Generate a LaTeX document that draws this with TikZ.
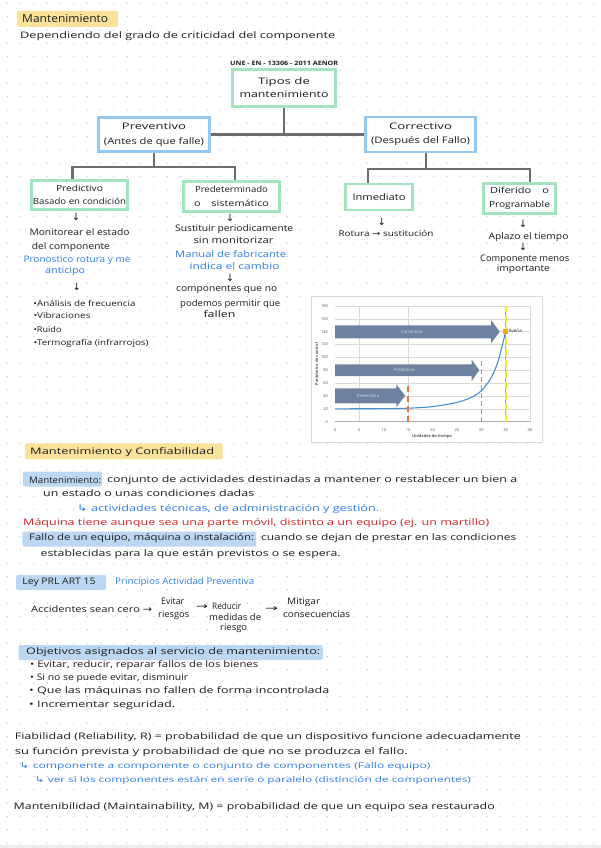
\documentclass[tikz,border=0pt]{standalone}
\usepackage{fontspec}
\setmainfont{Open Sans}
\newfontfamily\djv{DejaVu Sans}
\usepackage{graphicx}
\definecolor{ink}{HTML}{1C1C1C}
\definecolor{bluet}{HTML}{2E7EEA}
\definecolor{redt}{HTML}{D42323}
\definecolor{hly}{HTML}{FBE29B}
\definecolor{hlb}{HTML}{BCD7F2}
\definecolor{gbord}{HTML}{A3E4BE}
\definecolor{bbord}{HTML}{93C8F2}
\definecolor{connc}{HTML}{6E6E6E}
\definecolor{dotc}{HTML}{BDBDBD}
\definecolor{tickc}{HTML}{595959}
\definecolor{gridc}{HTML}{D9D9D9}
\definecolor{arrc}{HTML}{6C829E}
\definecolor{arrt}{HTML}{DDE3EC}
\definecolor{curvec}{HTML}{4A90D0}
\definecolor{orgc}{HTML}{EE7430}
\definecolor{yelc}{HTML}{F2EE1A}
\definecolor{avc}{HTML}{F2A900}
\newcommand\sw[2]{\resizebox{#1pt}{\height}{#2}}
\newcommand\ar{{\djv →}}
\newcommand\hk{{\djv ↳}}
\newcommand\T[6][txt]{\node[#1] (#2) at (#3,#4) {\sw{#5}{#6}};}
\begin{document}
\begin{tikzpicture}[x=1pt,y=-1pt,
 txt/.style={anchor=west,inner sep=0pt,text=ink,font=\fontsize{9}{10}\selectfont},
 btxt/.style={txt,text=bluet},
 rtxt/.style={txt,text=redt},
 dn/.style={anchor=center,inner sep=0pt,text=ink,font=\djv\fontsize{10}{10}\selectfont},
 boxbase/.style={draw,line width=2.8pt,fill=white,align=center,inner sep=0pt,text=ink,font=\fontsize{9}{13}\selectfont},
 gbox/.style={boxbase,draw=gbord},
 bbox/.style={boxbase,draw=bbord},
 conn/.style={draw=connc,line width=2.6pt},
 tick/.style={inner sep=0pt,text=tickc,font=\fontsize{4}{4}\selectfont},
 atxt/.style={inner sep=0pt,text=arrt,font=\fontsize{4.5}{5}\selectfont},
]
\useasboundingbox (0,0) rectangle (601,848);
\fill[white] (0,0) rectangle (601,848);
% dot grid
\foreach \i in {0,...,44}{\foreach \j in {0,...,63}{\fill[dotc] ({7.3+13.33*\i},{3.3+13.33*\j}) circle (0.6pt);}}
\fill[black!7] (0,845) rectangle (601,848);

% ---------- header ----------
\fill[hly,rounded corners=2pt] (17,11) rectangle (118,27);
\T[txt,font=\fontsize{11}{12}\selectfont]{ttl}{22}{19}{86}{Mantenimiento}
\T{dep}{20}{36}{315}{Dependiendo del grado de criticidad del componente}
\T[txt,font=\bfseries\fontsize{6}{7}\selectfont]{une}{230}{63}{108}{UNE - EN - 13306 - 2011 AENOR}

% ---------- tree ----------
\node[gbox,minimum width=103pt,minimum height=37pt] (tipos) at (284,88) {\sw{52}{Tipos de}\\\sw{89}{mantenimiento}};
\node[bbox,minimum width=111pt,minimum height=34pt,font=\fontsize{9}{15}\selectfont] (prev) at (154,134.5) {\sw{64}{Preventivo}\\\sw{100}{(Antes de que falle)}};
\node[bbox,minimum width=110pt,minimum height=35pt,font=\fontsize{9}{14}\selectfont] (corr) at (420.5,134.5) {\sw{63}{Correctivo}\\\sw{99}{(Después del Fallo)}};
\node[gbox,minimum width=96pt,minimum height=29pt,font=\fontsize{8.5}{12.5}\selectfont] (pred) at (79.5,195) {\sw{47}{Predictivo}\\\sw{93}{Basado en condición}};
\node[gbox,minimum width=96pt,minimum height=30pt,font=\fontsize{8.5}{13.5}\selectfont] (prdt) at (231.5,196.5) {\sw{73}{Predeterminado}\\\sw{75}{o\quad sistemático}};
\node[gbox,minimum width=67pt,minimum height=26pt] (inm) at (379,197) {\sw{53}{Inmediato}};
\node[gbox,minimum width=72pt,minimum height=30pt,font=\fontsize{8.5}{13.5}\selectfont] (dif) at (519.5,198.5) {\sw{59}{Diferido\quad o}\\\sw{61}{Programable}};

\coordinate (pl) at (72.7,167);
\coordinate (pr) at (235,167);
\coordinate (cj) at (426,169);
\coordinate (cl) at (368,169);
\coordinate (cr) at (530,169);
\draw[conn] (tipos.south) -- (tipos.south |- prev.east);
\draw[conn] (prev.east) -- (corr.west);
\draw[conn] (prev.south) -- (prev.south |- pl);
\draw[conn] (pred.north -| pl) |- (pr) -- (prdt.north -| pr);
\draw[conn] (corr.south -| cj) -- (cj);
\draw[conn] (inm.north -| cl) |- (cr) -- (dif.north -| cr);

% ---------- under Predictivo ----------
\node[dn] (a1) at (76,216.5) {↓};
\T{m1}{29.3}{232.3}{100}{Monitorear el estado}
\T{m2}{31.7}{246.7}{78}{del componente}
\T[btxt]{m3}{23.3}{260.7}{107}{Pronostico rotura y me}
\T[btxt]{m4}{45}{271}{40}{anticipo}
\node[dn] (a2) at (76.7,287) {↓};
\T[txt,font=\fontsize{8}{9}\selectfont]{m5}{33.3}{303.3}{102}{•Análisis de frecuencia}
\T[txt,font=\fontsize{8}{9}\selectfont]{m6}{33.3}{315.5}{57}{•Vibraciones}
\T[txt,font=\fontsize{8}{9}\selectfont]{m7}{33.3}{329.3}{28}{•Ruido}
\T[txt,font=\fontsize{8}{9}\selectfont]{m8}{33.3}{343.3}{115}{•Termografía (infrarrojos)}

% ---------- under Predeterminado ----------
\node[dn] (a3) at (230,217.5) {↓};
\T{p1}{175}{229}{118}{Sustituir periodicamente}
\T{p2}{193.3}{240}{80}{sin monitorizar}
\T[btxt]{p3}{175}{254}{111}{Manual de fabricante}
\T[btxt]{p4}{189.3}{265.7}{90}{indica el cambio}
\node[dn] (a4) at (230,277.5) {↓};
\T{p5}{176}{290}{101}{componentes que no}
\T{p6}{180}{304.3}{100}{podemos permitir que}
\T{p7}{203.3}{314}{32}{fallen}

% ---------- under Correctivo ----------
\node[dn] (a5) at (381.7,221.7) {↓};
\T[txt,font=\fontsize{8}{9}\selectfont]{c1}{338.3}{233.3}{95}{Rotura \ar\ sustitución}
\node[dn] (a6) at (523,223.5) {↓};
\T{c2}{488.3}{236.7}{80}{Aplazo el tiempo}
\node[dn] (a7) at (523,247) {↓};
\T{c3}{480}{259}{89}{Componente menos}
\T{c4}{496.7}{269}{53}{importante}

% ---------- chart ----------
\draw[gridc,fill=white] (311,296) rectangle (542,442);
\begin{scope}[shift={(335,421.7)},x=4.875pt,y=0.643pt]
 \foreach \v in {20,40,...,180} \draw[gridc,line width=0.5pt] (0,\v) -- (40,\v);
 \foreach \t in {5,15,35,40} \draw[gridc,line width=0.5pt] (\t,0) -- (\t,180);
 \draw[gridc!80!black,line width=0.5pt] (0,0) -- (40,0);
 \foreach \v in {0,20,...,180} \node[tick,anchor=east] at (-1.4,\v) {\v};
 \foreach \t in {0,5,...,40} \node[tick] at (\t,-13) {\t};
 \fill[arrc] (0,129.4) -- (32,129.4) -- (32,122) -- (33.8,140) -- (32,158) -- (32,150) -- (0,150) -- cycle;
 \fill[arrc] (0,71) -- (28,71) -- (28,63) -- (29.6,80) -- (28,97) -- (28,89) -- (0,89) -- cycle;
 \fill[arrc] (0,28.6) -- (12.6,28.6) -- (12.6,23) -- (14.4,40.3) -- (12.6,58) -- (12.6,52) -- (0,52) -- cycle;
 \node[atxt] (ch1) at (15.7,140) {Correctivo};
 \node[atxt] (ch2) at (14.2,80) {Predictivo};
 \node[atxt] (ch3) at (6.8,40) {Preventivo};
 \draw[connc!60,line width=0.6pt] (35,0) -- (35,180);
 \draw[curvec,line width=1.1pt] plot[smooth] coordinates {(0,20) (10,20.3) (15,21) (20,23.5) (25,30) (28,38) (30,48) (32,68) (33.5,95) (35,140)};
 \draw[orgc,line width=2.2pt,dash pattern=on 6pt off 4pt] (15,0) -- (15,58);
 \draw[connc!70,line width=1pt,dash pattern=on 5pt off 3pt] (30,0) -- (30,95);
 \draw[yelc,line width=2.2pt,dash pattern=on 7pt off 4pt] (35,0) -- (35,180);
 \node[fill=avc,minimum size=5pt,inner sep=0pt] (av) at (35,140) {};
 \node[inner sep=0pt,anchor=west,text=ink,font=\fontsize{4.5}{5}\selectfont] (avl) at (35.6,142) {Avería};
\end{scope}
\node[inner sep=0pt,rotate=90,text=tickc,font=\bfseries\fontsize{4}{4}\selectfont] (yl) at (316.5,364) {Parámetro de control};
\node[inner sep=0pt,text=tickc,font=\bfseries\fontsize{4}{4}\selectfont] (xl) at (432,436.5) {Unidades de tiempo};

% ---------- section 2 ----------
\fill[hly,rounded corners=2pt] (25,443.3) rectangle (222.6,459.3);
\T{s1}{30}{452}{184}{Mantenimiento y Confiabilidad}
\fill[hlb,rounded corners=2pt] (23,471.7) rectangle (102,486.7);
\T{s2}{29}{480}{72}{Mantenimiento:}
\T{s3}{107}{480}{410}{conjunto de actividades destinadas a mantener o restablecer un bien a}
\T{s4}{43}{493}{211}{un estado o unas condiciones dadas}
\T[btxt]{s5}{77}{509}{302}{\hk\ actividades técnicas, de administración y gestión.}
\T[rtxt]{s6}{23}{523}{466}{Máquina tiene aunque sea una parte móvil, distinto a un equipo (ej. un martillo)}
\fill[hlb,rounded corners=2pt] (22.3,531.7) rectangle (256.2,546.7);
\T{s7}{29}{538.5}{225}{Fallo de un equipo, máquina o instalación:}
\T{s8}{261}{538.5}{255}{cuando se dejan de prestar en las condiciones}
\T{s9}{40.4}{554}{300}{establecidas para la que están previstos o se espera.}
\fill[hlb,rounded corners=2pt] (16.2,575) rectangle (106,590);
\T{s10}{22.3}{582}{73}{Ley PRL ART 15}
\T[btxt]{s11}{115}{582}{139}{Principios Actividad Preventiva}
\T{s12}{31}{609}{121}{Accidentes sean cero \ar}
\T{s13}{161}{601}{23}{Evitar}
\T{s14}{158}{615}{31}{riesgos}
\T{s15}{196}{607}{12}{\ar}
\T{s16}{212}{606}{29}{Reducir}
\T{s17}{209}{617.5}{52}{medidas de}
\T{s18}{220}{628}{27}{riesgo}
\T{s19}{265}{609.5}{13}{\ar}
\T{s20}{287}{602}{33}{Mitigar}
\T{s21}{283}{614}{67}{consecuencias}
\fill[hlb,rounded corners=2pt] (18.5,645) rectangle (322.8,660);
\T{s22}{26}{652.5}{294}{Objetivos asignados al servicio de mantenimiento:}
\T{s23}{30}{665}{228}{• Evitar, reducir, reparar fallos de los bienes}
\T{s24}{30}{678}{158}{• Si no se puede evitar, disminuir}
\T{s25}{29}{691.5}{300}{• Que las máquinas no fallen de forma incontrolada}
\T{s26}{29}{705}{146}{• Incrementar seguridad.}
\T{s27}{14.6}{737}{506}{Fiabilidad (Reliability, R) = probabilidad de que un dispositivo funcione adecuadamente}
\T{s28}{14.6}{752}{393}{su función prevista y probabilidad de que no se produzca el fallo.}
\T[btxt,font=\fontsize{8}{9}\selectfont]{s29}{19.3}{766}{411}{\hk\ componente a componente o conjunto de componentes (Fallo equipo)}
\T[btxt,font=\fontsize{8}{9}\selectfont]{s30}{34.7}{780}{436}{\hk\ ver si los componentes están en serie o paralelo (distinción de componentes)}
\T{s31}{13.5}{807}{481}{Mantenibilidad (Maintainability, M) = probabilidad de que un equipo sea restaurado}
\end{tikzpicture}
\end{document}
